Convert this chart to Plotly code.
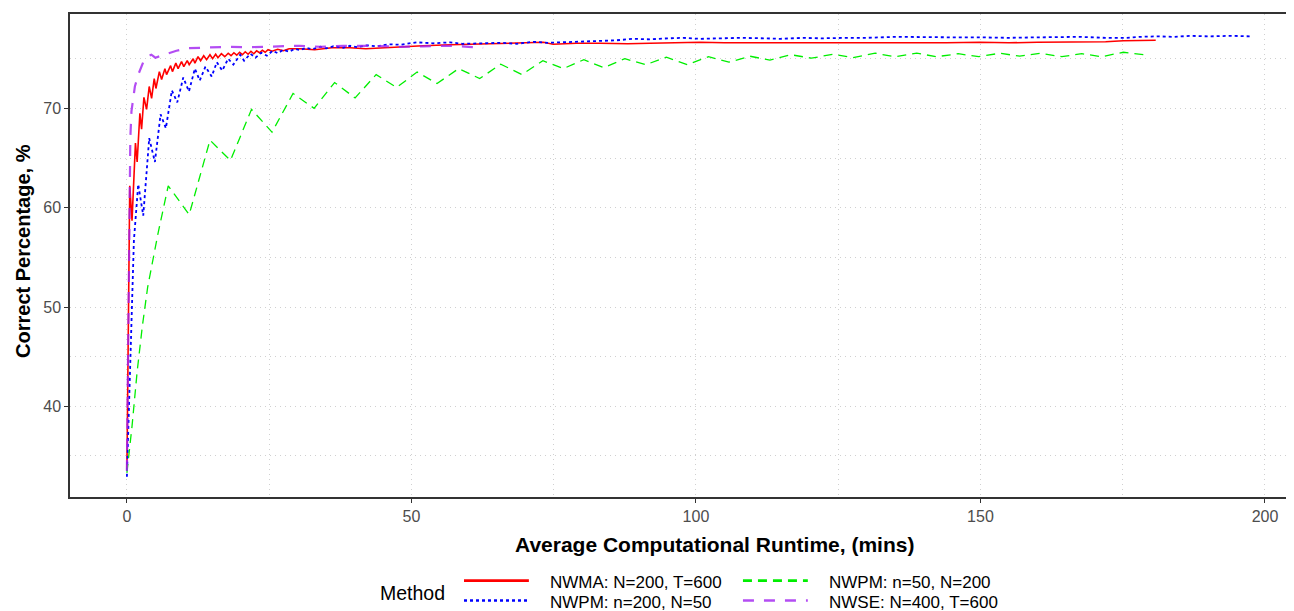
import plotly.graph_objects as go

# NWMA: N=200, T=600
nwma_x = [0, 0.5, 0.9, 1.5, 1.8, 2.28, 2.58, 2.99, 3.46, 3.92, 4.34, 4.8, 5.1, 5.7, 6.1, 6.68, 6.97, 7.68, 8.0,
          8.6, 9.0, 9.6, 10.0, 10.6, 10.95, 11.65, 11.95, 12.5, 12.95, 13.5, 14.0, 14.6, 15.06, 15.6, 16.0, 16.6,
          17.2, 17.8, 18.3, 18.8, 19.3, 19.8, 20.3, 20.8, 21.3, 21.8, 22.3, 22.8, 23.3, 23.8, 24.3, 24.8, 25.5,
          26.5, 27.5, 28.5, 30.4, 33, 36, 39.2, 42, 45, 48, 52, 56.8, 61, 65.6, 70, 73.2, 74.9, 79, 83.1, 88,
          91.9, 96, 100.7, 105, 110, 114.8, 120, 126.5, 132, 138.2, 144, 149.9, 155, 160, 167.5, 172, 175.1, 180.8]
nwma_y = [33.5, 62.2, 58.7, 66.5, 64.6, 69.5, 67.9, 71.1, 69.9, 72.2, 71.0, 73.0, 72.0, 73.7, 72.9, 74.0, 73.4, 74.3,
          73.7, 74.55, 74.0, 74.7, 74.2, 74.8, 74.4, 75.0, 74.55, 75.2, 74.8, 75.3, 74.9, 75.4, 75.0, 75.45, 75.1,
          75.5, 75.2, 75.55, 75.3, 75.6, 75.35, 75.65, 75.4, 75.7, 75.45, 75.75, 75.5, 75.8, 75.6, 75.85, 75.65,
          75.9, 75.75, 75.95, 75.8, 76.0, 76.0, 75.9, 76.1, 76.1, 76.0, 76.1, 76.15, 76.3, 76.4, 76.45, 76.55,
          76.6, 76.65, 76.45, 76.55, 76.55, 76.5, 76.55, 76.6, 76.65, 76.6, 76.6, 76.6, 76.55, 76.55, 76.6, 76.55,
          76.6, 76.65, 76.6, 76.65, 76.65, 76.7, 76.8, 76.85]

# NWPM: n=200, N=50
nwpm200_x = [0, 0.5, 0.8, 1.23, 1.99, 2.87, 3.92, 4.92, 5.92, 6.85, 7.9, 8.85, 9.9, 10.9, 11.95, 12.8, 13.8, 14.9,
             15.8, 16.75, 17.8, 18.7, 19.9, 20.6, 21.7, 22.6, 23.6, 24.6, 25.6, 26.5, 27.5, 28.5, 29.5, 30.4, 31.5,
             32.5, 34, 35, 36.3, 38, 39.2, 40.5, 42.1, 44, 46, 48, 50.9, 53.8, 56.8, 59, 62.6, 66, 68.5, 71.4, 74,
             77.3, 80, 83.1, 86, 89, 92, 95, 97.8, 100.7, 104, 108, 112, 114.8, 118.9, 122, 126.5, 130, 135.3, 140,
             145, 149.9, 155, 160, 164, 167.5, 172, 175.7, 178, 181, 184, 186.8, 190, 194, 197.5]
nwpm200_y = [32.9, 42.6, 50.3, 56.7, 62.35, 59.2, 67.0, 64.6, 69.4, 68.0, 71.8, 70.6, 73.1, 71.7, 74.0, 72.8, 74.2,
             73.2, 74.65, 73.8, 75.0, 74.4, 75.4, 74.8, 75.5, 75.1, 75.6, 75.3, 75.8, 75.55, 75.9, 75.7, 76.0, 75.85,
             76.1, 75.95, 76.2, 76.05, 76.25, 76.1, 76.3, 76.15, 76.35, 76.25, 76.45, 76.4, 76.65, 76.55, 76.65,
             76.5, 76.55, 76.6, 76.5, 76.7, 76.6, 76.65, 76.7, 76.8, 76.85, 77.0, 76.95, 77.05, 77.1, 77.0, 77.05,
             77.1, 77.05, 77.0, 77.1, 77.05, 77.1, 77.1, 77.2, 77.15, 77.15, 77.15, 77.1, 77.15, 77.2, 77.2, 77.1,
             77.1, 77.2, 77.25, 77.2, 77.3, 77.25, 77.3, 77.25]

# NWPM: n=50, N=200
nwpm50_x = [0, 0.9, 1.8, 2.7, 3.65, 5.5, 7.26, 10.95, 14.6, 18.2, 21.9, 25.5, 29.2, 32.9, 36.5, 40.1, 43.8, 47.4,
            51.0, 54.5, 58.3, 62.0, 65.7, 69.4, 73.1, 76.7, 80.3, 83.8, 87.5, 91.2, 94.8, 98.5, 102.2, 105.8, 109.5,
            113.0, 116.7, 120.3, 124.1, 127.6, 131.5, 135.0, 138.8, 142.3, 146.1, 149.7, 153.4, 156.9, 160.5, 164.3,
            167.8, 171.3, 175.1, 178.8]
nwpm50_y = [33.3, 38.0, 43.5, 48.0, 52.0, 57.5, 62.2, 59.3, 66.8, 64.75, 69.9, 67.6, 71.5, 70.0, 72.6, 71.05, 73.4,
            72.1, 73.65, 72.5, 74.0, 73.0, 74.45, 73.4, 74.8, 74.0, 74.9, 74.1, 75.0, 74.4, 75.15, 74.4, 75.2, 74.65,
            75.25, 74.85, 75.4, 75.05, 75.45, 75.1, 75.55, 75.2, 75.55, 75.2, 75.5, 75.2, 75.55, 75.25, 75.55, 75.2,
            75.5, 75.2, 75.65, 75.4]

# NWSE: N=400, T=600
nwse_x = [0, 0.2, 0.35, 0.45, 0.6, 0.8, 1.1, 1.4, 2.0, 2.5, 2.9, 3.5, 4.3, 5.0, 5.5, 6.5, 7.6, 8.7, 10.5, 13.4,
          15.5, 18.1, 21, 24.5, 27, 30.4, 34, 38, 42, 45, 48, 52, 56.8, 60, 62.6]
nwse_y = [33.5, 45.0, 55.0, 62.0, 67.0, 69.7, 71.2, 72.2, 73.4, 74.1, 74.7, 75.2, 75.4, 75.1, 75.2, 75.35, 75.55,
          75.8, 76.05, 76.1, 76.15, 76.2, 76.15, 76.2, 76.25, 76.3, 76.2, 76.3, 76.3, 76.25, 76.2, 76.25, 76.3,
          76.2, 76.1]

names = ['NWMA: N=200, T=600', 'NWPM: n=200, N=50', 'NWPM: n=50, N=200', 'NWSE: N=400, T=600']
colors = ['#FF0000', '#0000FF', '#00EE00', 'rgba(160,32,240,0.8)']
dashes = ['solid', 'dot', '9px,6px', '11px,10px']
widths = [1.6, 1.8, 1.3, 2.2]
xs = [nwma_x, nwpm200_x, nwpm50_x, nwse_x]
ys = [nwma_y, nwpm200_y, nwpm50_y, nwse_y]

x_ticks = [0, 50, 100, 150, 200]
y_ticks = [40, 50, 60, 70]

fig = go.Figure()
for name, x, y, c, d, w in zip(names, xs, ys, colors, dashes, widths):
    fig.add_trace(go.Scatter(x=x, y=y, mode='lines', name=name, showlegend=False,
                             line=dict(color=c, dash=d, width=w)))

# hand-made legend below the panel (two columns, two rows)
leg_pos = [(0.3219, -0.1732), (0.3219, -0.2144), (0.5498, -0.1732), (0.5498, -0.2144)]
for (lx, ly), name, c, d in zip(leg_pos, names, colors, dashes):
    fig.add_shape(type='line', xref='paper', yref='paper', x0=lx, x1=lx + 0.053, y0=ly, y1=ly,
                  line=dict(color=c, dash=d, width=2.6))
    fig.add_annotation(xref='paper', yref='paper', x=lx + 0.0686, y=ly - 0.004, text=name, showarrow=False,
                       xanchor='left', yanchor='middle', font=dict(size=17, color='black'))
fig.add_annotation(xref='paper', yref='paper', x=0.2516, y=-0.198, text='Method', showarrow=False,
                   xanchor='left', yanchor='middle', font=dict(size=19.5, color='black'))

fig.add_annotation(xref='paper', yref='paper', x=0.5266, y=-0.099, text='<b>Average Computational Runtime, (mins)</b>',
                   showarrow=False, xanchor='center', yanchor='middle', font=dict(size=21, color='black'))
fig.add_annotation(xref='paper', yref='paper', x=-0.039, y=0.51, text='<b>Correct Percentage, %</b>', textangle=-90,
                   showarrow=False, xanchor='center', yanchor='middle', font=dict(size=20, color='black'))

grid = '#D0D0D0'
gdash = '1px,4px'
# the page sits 8px in from the top-left corner, so margins are trimmed by that much
fig.update_layout(width=1294, height=611, margin=dict(l=62, r=8, t=4, b=122),
                  plot_bgcolor='white', paper_bgcolor='white',
                  font=dict(family='Liberation Sans, Arial, sans-serif', color='#4D4D4D'),
                  xaxis=dict(range=[-10.0, 205.1], tickvals=x_ticks, showline=True, mirror=True, linecolor='#333333',
                             linewidth=1.5, ticks='outside', ticklen=4, tickcolor='#333333', tickfont=dict(size=16),
                             showgrid=True, gridcolor=grid, griddash=gdash, gridwidth=1, zeroline=False,
                             minor=dict(tickvals=[25, 75, 125, 175], showgrid=True, gridcolor=grid, griddash=gdash,
                                        gridwidth=1)),
                  yaxis=dict(range=[30.87, 79.5], tickvals=y_ticks, showline=True, linecolor='#333333', linewidth=1.5,
                             ticks='outside', ticklen=4, tickcolor='#333333', tickfont=dict(size=16),
                             showgrid=True, gridcolor=grid, griddash=gdash, gridwidth=1, zeroline=False,
                             minor=dict(tickvals=[35, 45, 55, 65, 75], showgrid=True, gridcolor=grid, griddash=gdash,
                                        gridwidth=1)))

fig.write_html("out.html")
